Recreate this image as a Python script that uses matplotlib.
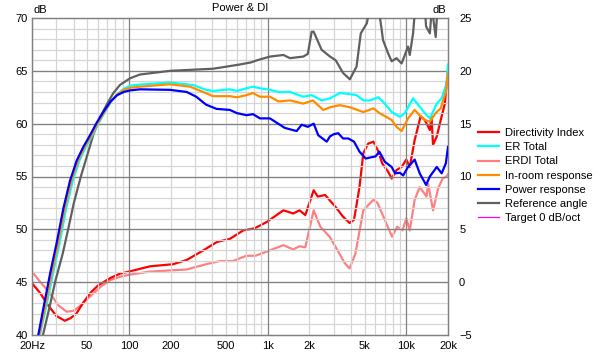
# power & DI plot (spinorama style), ksanaftiagmeno apo to screenshot

import matplotlib
matplotlib.use("Agg")
import matplotlib.pyplot as plt
from matplotlib.ticker import FixedLocator, NullFormatter

# --- data, diavasmena apo tin eikona ---
# Power response (left axis, dB)
pw_f = [22.2, 24.8, 27, 30, 33.7, 37.6, 42, 46.9, 52.4, 58.6,
        65.3, 73.7, 82.3, 91.9, 102, 120, 198, 261, 306, 360,
        428, 535, 600, 706, 785, 881, 1040, 1330, 1620, 1760,
        1950, 2150, 2320, 2670, 2820, 3000, 3230, 3500, 3820, 4200,
        4600, 5100, 5500, 6000, 6400, 7000, 7850, 8300, 9000, 9500,
        10300, 11500, 12500, 13900, 14800, 16600, 18000, 19300, 20000]
pw_db = [40.0, 43.3, 45.8, 48.6, 52.0, 54.6, 56.5, 57.8, 58.9, 60.1,
         61.1, 62.1, 62.7, 63.0, 63.15, 63.25, 63.2, 63.0, 62.55, 61.8,
         61.4, 61.3, 61.0, 60.8, 60.9, 60.5, 60.5, 59.6, 59.3, 59.9,
         59.7, 60.0, 58.9, 58.3, 58.8, 59.0, 59.1, 58.6, 58.6, 58.3,
         57.35, 56.7, 56.8, 56.9, 57.35, 56.4, 55.9, 55.3, 55.35, 55.1,
         55.9, 56.6, 55.3, 54.2, 55.0, 55.9, 55.3, 56.25, 57.8]

# ER Total
er_f = [22.8, 25.9, 28.3, 31.5, 35.3, 39.4, 43.9, 48.9, 54.5, 60.8,
        67, 74.5, 82.5, 92, 102, 120, 198, 290, 360, 405,
        535, 600, 706, 785, 881, 1040, 1200, 1450, 1810, 2080,
        2450, 2820, 3320, 3920, 4380, 4900, 5470, 6280, 7000, 7850,
        9000, 9780, 10300, 11200, 12500, 13600, 14800, 16600, 18000, 19500,
        20000]
er_db = [40.0, 43.3, 45.8, 48.6, 52.0, 54.6, 56.5, 57.8, 58.9, 60.1,
         61.1, 62.1, 62.8, 63.3, 63.6, 63.7, 63.9, 63.66, 63.2, 63.1,
         63.25, 63.1, 63.35, 63.5, 63.35, 63.2, 63.0, 63.0, 62.55, 62.7,
         62.2, 62.4, 62.9, 62.8, 62.7, 62.2, 62.2, 62.5, 61.9, 61.1,
         60.65, 61.0, 61.55, 62.4, 61.6, 61.0, 60.5, 61.9, 62.4, 63.8,
         65.6]

# In-room response
ir_f = [22.6, 25.4, 27.7, 30.8, 34.5, 38.5, 43, 48, 53.7, 60,
        66.5, 74, 82.3, 92, 102, 120, 198, 276, 343, 405,
        535, 600, 706, 785, 881, 1040, 1200, 1450, 1810, 2120,
        2520, 2820, 3320, 3920, 4900, 5800, 6400, 7850, 8500, 9260,
        10300, 11500, 12500, 13600, 14800, 16300, 17700, 19300, 20000]
ir_db = [40.0, 43.3, 45.8, 48.6, 52.0, 54.6, 56.5, 57.8, 58.9, 60.1,
         61.1, 62.1, 62.75, 63.2, 63.4, 63.5, 63.73, 63.5, 63.0, 62.6,
         62.6, 62.5, 62.7, 62.9, 62.55, 62.55, 62.1, 62.2, 61.9, 62.2,
         61.3, 61.55, 61.75, 61.55, 61.1, 61.45, 61.0, 60.35, 59.7, 59.3,
         60.5, 61.3, 60.8, 60.35, 60.2, 61.0, 61.45, 63.0, 64.8]

# Reference angle
ref_f = [24, 26.5, 29.6, 33.3, 36.8, 40, 45, 50, 55.5, 61.9,
         69.1, 77.2, 86.1, 102, 120, 198, 405, 535, 630, 760,
         840, 1040, 1300, 1450, 1810, 1950, 2080, 2150, 2450, 2820,
         3100, 3500, 3920, 4380, 4700, 5200, 5450, 6300, 6600, 6800,
         7400, 7850, 8500, 9260, 10300, 10600, 11200, 11600, 13600, 13900,
         14800, 15300, 16300, 16800, 20000]
ref_db = [40.0, 42.4, 45.2, 47.7, 50.25, 52.45, 55.0, 57.0, 59.0, 60.6,
          61.8, 62.9, 63.66, 64.3, 64.65, 65.0, 65.2, 65.45, 65.6, 65.8,
          66.0, 66.35, 66.5, 66.2, 66.35, 66.6, 68.7, 68.7, 67.0, 66.35,
          66.0, 64.8, 64.2, 65.4, 68.55, 69.5, 71.0, 71.0, 69.2, 67.9,
          66.65, 65.9, 66.2, 65.7, 67.3, 66.5, 68.55, 71.0, 71.0, 69.2,
          68.55, 71.0, 68.2, 71.0, 72.0]

# Directivity Index (right axis, dB)
di_f = [20, 22.8, 26.2, 30, 34.5, 38, 41.9, 46.5, 52.4, 60,
        73.7, 86, 100, 142, 208, 261, 343, 431, 535, 667,
        808, 987, 1300, 1530, 1700, 1870, 2150, 2300, 2600, 3100,
        3500, 3900, 4200, 4600, 4900, 5300, 5800, 6300, 6700, 7400,
        7850, 8500, 9260, 10000, 10600, 11500, 12700, 13600, 14800, 15200,
        15600, 16600, 18000, 19000, 19500, 20000]
di_db = [-0.1, -1.0, -2.2, -3.2, -3.65, -3.4, -2.95, -2.0, -1.05, -0.3,
         0.4, 0.8, 1.0, 1.5, 1.7, 2.1, 3.0, 3.8, 4.1, 4.9,
         5.1, 5.7, 6.8, 6.5, 6.8, 6.35, 8.7, 8.1, 8.25, 7.1,
         6.2, 5.6, 5.9, 9.0, 12.2, 13.1, 13.3, 12.35, 11.25, 10.45,
         9.8, 10.6, 10.9, 11.6, 10.9, 13.45, 15.7, 15.35, 14.4, 15.7,
         13.0, 13.8, 15.7, 16.9, 18.7, 19.8]

# ERDI Total (right axis)
erdi_f = [20, 23, 27, 31, 35.6, 40, 44, 50, 55.6, 63,
          73.7, 86, 100, 142, 261, 361, 453, 564, 703, 818,
          987, 1300, 1530, 1700, 1870, 2150, 2400, 2800, 3200, 3600,
          3900, 4300, 4900, 5800, 6200, 7000, 7900, 8600, 9400, 10000,
          10600, 11500, 12500, 14000, 14400, 15600, 17000, 18300, 19500, 20000]
erdi_db = [1.0, 0.0, -1.05, -2.2, -2.8, -2.7, -2.3, -1.6, -1.05, -0.4,
           0.2, 0.5, 0.7, 1.0, 1.2, 1.7, 2.0, 2.0, 2.5, 2.5,
           2.9, 3.5, 3.1, 3.4, 3.3, 6.8, 5.25, 4.3, 3.0, 1.8,
           1.3, 2.7, 6.8, 7.8, 7.5, 5.9, 4.3, 5.25, 4.9, 6.05,
           4.9, 7.8, 9.0, 8.1, 9.3, 6.8, 8.9, 9.8, 10.0, 10.2]

xtick_pos = [20, 50, 100, 200, 500, 1000, 2000, 5000, 10000, 20000]
xtick_lbl = ["20Hz", "50", "100", "200", "500", "1k", "2k", "5k", "10k", "20k"]

# xromata
C_DI = "#ff0000"
C_ER = "#00ffff"
C_ERDI = "#ff8080"
C_IR = "#ff8c00"
C_PW = "#0000ff"
C_REF = "#606060"
C_TGT = "#ff00ff"

plt.rcParams["font.family"] = ["Liberation Sans", "DejaVu Sans"]
plt.rcParams["font.size"] = 8

fig = plt.figure(figsize=(6, 3.53), dpi=100)
ax = fig.add_axes([32 / 600, 18 / 353, 416 / 600, 317 / 353])
ax2 = ax.twinx()

ax.set_xscale("log")
ax.set_xlim(20, 20000)
ax.set_ylim(40, 70)
ax2.set_ylim(-5, 25)

# grid: minor light, major darker
minor_x = [f * m for f in (10, 100, 1000, 10000) for m in range(2, 10) if 20 < f * m < 20000]
ax.xaxis.set_major_locator(FixedLocator(xtick_pos))
ax.xaxis.set_minor_locator(FixedLocator(minor_x))
ax.xaxis.set_minor_formatter(NullFormatter())
ax.set_xticklabels(xtick_lbl)
ax.set_yticks(range(40, 71, 5))
ax.set_yticks(range(40, 71), minor=True)
ax2.set_yticks(range(-5, 26, 5))

for f in minor_x:
    ax.axvline(f, color="#d6d6d6", lw=0.9, zorder=0)
for v in range(41, 70):
    ax.axhline(v, color="#d6d6d6", lw=0.9, zorder=0)
for f in (100, 1000, 10000):
    ax.axvline(f, color="#808080", lw=0.9, zorder=0.5)
for v in range(45, 70, 5):
    ax.axhline(v, color="#808080", lw=0.9, zorder=0.5)

for a in (ax, ax2):
    a.tick_params(which="both", length=0, labelsize=8, colors="black")
    for s in a.spines.values():
        s.set_color("#808080")
        s.set_linewidth(0.9)
ax.tick_params(axis="x", pad=4)
ax.tick_params(axis="y", pad=3)
ax2.tick_params(axis="y", pad=8)

lw = 1.6
l_di, = ax2.plot(di_f, di_db, color=C_DI, lw=lw, label="Directivity Index", zorder=5)
l_erdi, = ax2.plot(erdi_f, erdi_db, color=C_ERDI, lw=lw, label="ERDI Total", zorder=4)
l_ref, = ax.plot(ref_f, ref_db, color=C_REF, lw=lw, label="Reference angle", zorder=3)
l_er, = ax.plot(er_f, er_db, color=C_ER, lw=lw, label="ER Total", zorder=3)
l_ir, = ax.plot(ir_f, ir_db, color=C_IR, lw=lw, label="In-room response", zorder=3)
l_pw, = ax.plot(pw_f, pw_db, color=C_PW, lw=lw, label="Power response", zorder=3)
l_tgt, = ax.plot([], [], color=C_TGT, lw=0.9, label="Target 0 dB/oct")

ax.set_zorder(ax2.get_zorder() + 1)
ax.patch.set_visible(False)

fig.text(240 / 600, 1 - 8 / 353, "Power & DI", ha="center", va="center", fontsize=8)
fig.text(34 / 600, 1 - 10 / 353, "dB", ha="left", va="center", fontsize=8)
fig.text(446 / 600, 1 - 10 / 353, "dB", ha="right", va="center", fontsize=8)

fig.legend(handles=[l_di, l_er, l_erdi, l_ir, l_pw, l_ref, l_tgt],
           loc="upper left", bbox_to_anchor=(478 / 600, 1 - 128 / 353),
           frameon=False, fontsize=8, handlelength=1.9, handletextpad=0.5,
           labelspacing=0.38, borderpad=0, borderaxespad=0)

fig.savefig("out.png", dpi=100)
